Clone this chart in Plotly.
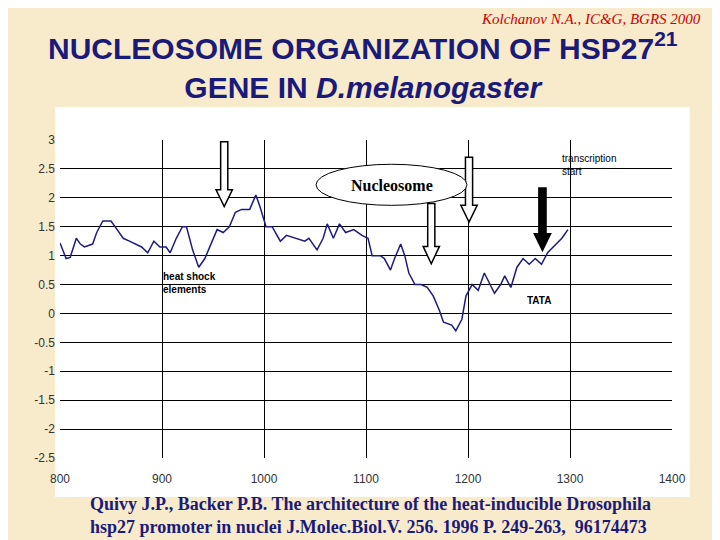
import plotly.graph_objects as go

pos = [800, 806, 810, 816, 820, 824, 832, 836, 842, 850, 856, 862, 868, 874, 880, 886, 892, 898,
       904, 908, 914, 920, 924, 930, 936, 942, 948, 954, 960, 966, 972, 978, 986, 992, 996, 1002,
       1008, 1016, 1022, 1032, 1040, 1044, 1052, 1058, 1062, 1068, 1074, 1080, 1088, 1096, 1102,
       1106, 1114, 1118, 1124, 1128, 1134, 1138, 1142, 1148, 1154, 1160, 1166, 1172, 1176, 1184,
       1188, 1194, 1198, 1204, 1210, 1216, 1220, 1226, 1232, 1236, 1242, 1248, 1254, 1260, 1266,
       1272, 1278, 1284, 1292, 1298]
val = [1.22, 0.95, 0.97, 1.3, 1.2, 1.15, 1.2, 1.4, 1.6, 1.6, 1.45, 1.3, 1.25, 1.2, 1.15, 1.05, 1.25, 1.15,
       1.15, 1.05, 1.3, 1.5, 1.5, 1.1, 0.8, 0.95, 1.2, 1.45, 1.4, 1.5, 1.75, 1.8, 1.8, 2.05, 1.85, 1.5,
       1.5, 1.25, 1.35, 1.3, 1.25, 1.3, 1.1, 1.3, 1.55, 1.3, 1.55, 1.4, 1.45, 1.35, 1.3,
       1.0, 1.0, 0.95, 0.75, 0.95, 1.2, 1.0, 0.7, 0.5, 0.5, 0.45, 0.3, 0.05, -0.15, -0.2,
       -0.3, -0.1, 0.3, 0.5, 0.4, 0.7, 0.55, 0.35, 0.5, 0.65, 0.45, 0.8, 0.95, 0.85, 0.95,
       0.85, 1.05, 1.15, 1.3, 1.45]
y_ticks = [3, 2.5, 2, 1.5, 1, 0.5, 0, -0.5, -1, -1.5, -2, -2.5]
y_labels = ["3", "2.5", "2", "1.5", "1", "0.5", "0", "-0.5", "-1", "-1.5", "-2", "-2.5"]

navy = "#1a1a7a"
fig = go.Figure()
fig.add_trace(go.Scatter(x=pos, y=val, mode="lines", line=dict(color="#1c1c80", width=1.5),
                         showlegend=False, hoverinfo="skip"))

def arrow(xc, top, neck, tip, fill):
    s, h = 3.5, 8
    p = (f"M {xc-s} {top} L {xc+s} {top} L {xc+s} {neck} L {xc+h} {neck} L {xc} {tip} "
         f"L {xc-h} {neck} L {xc-s} {neck} Z")
    return dict(type="path", xref="x", yref="y", path=p, fillcolor=fill,
                line=dict(color="black", width=1.5))

shapes = [
    dict(type="rect", xref="paper", yref="paper", x0=-0.008, x1=1.029, y0=-0.123, y1=1.104,
         fillcolor="white", line=dict(width=0), layer="below"),
    arrow(961, 2.97, 2.14, 1.85, "white"),
    arrow(1164, 1.9, 1.16, 0.86, "white"),
    arrow(1201, 2.7, 1.87, 1.58, "white"),
    arrow(1273, 2.17, 1.38, 1.09, "black"),
    dict(type="circle", xref="x", yref="y", x0=1051, x1=1199, y0=1.87, y1=2.58,
         fillcolor="white", line=dict(color="black", width=1)),
]

ann = [
    dict(x=1125, y=2.22, text="<b>Nucleosome</b>", font=dict(family="Liberation Serif", size=16, color="black")),
    dict(x=940, y=3.2, text="<b>HS</b>", font=dict(size=12)),
    dict(x=1175, y=3.2, text="<b>HS</b>", font=dict(size=12)),
    dict(x=899, y=0.53, text="<b>heat shock<br>elements</b>", xanchor="left", align="left", font=dict(size=10)),
    dict(x=1256, y=0.23, text="<b>TATA</b>", xanchor="left", font=dict(size=10)),
    dict(x=1290, y=2.57, text="transcription<br>start", xanchor="left", align="left", font=dict(size=10)),
    dict(xref="paper", yref="paper", x=1.05, y=1.38, yanchor="middle",
         text="<i>Kolchanov N.A., IC&amp;G, BGRS 2000</i>",
         xanchor="right", font=dict(family="Liberation Serif", size=15, color="#cc0000")),
    dict(xref="paper", yref="paper", x=0.495, y=1.235, yanchor="middle",
         text="<b>NUCLEOSOME ORGANIZATION OF HSP27<sup>21</sup><br>GENE IN <i>D.melanogaster</i></b>",
         font=dict(family="Liberation Sans", size=30, color=navy)),
    dict(xref="paper", yref="paper", x=0.508, y=-0.18, yanchor="middle",
         text="<b>Quivy J.P., Backer P.B. The architecture of the heat-inducible Drosophila<br>"
              "hsp27 promoter in nuclei J.Molec.Biol.V. 256. 1996 P. 249-263,  96174473</b>",
         align="left", font=dict(family="Liberation Serif", size=18, color=navy)),
]
for a in ann:
    a.setdefault("showarrow", False)
    a.setdefault("font", {})
    a["font"].setdefault("family", "Liberation Sans")
    a["font"].setdefault("color", "black")

fig.update_layout(
    width=720, height=540, margin=dict(l=52, r=56, t=132, b=90),
    paper_bgcolor="#f8ebcc", plot_bgcolor="white",
    shapes=shapes, annotations=ann,
    xaxis=dict(range=[800, 1400], dtick=100, showgrid=True, gridcolor="black", gridwidth=1,
               zeroline=False, ticks="", ticklabelstandoff=12,
               tickfont=dict(family="Liberation Sans", size=12, color="#333")),
    yaxis=dict(range=[-2.5, 3], tickvals=y_ticks, ticktext=y_labels, showgrid=True,
               gridcolor="black", gridwidth=1, zeroline=False, ticklabelstandoff=4,
               tickfont=dict(family="Liberation Sans", size=12, color="#333")),
)
fig.write_html("out.html")
